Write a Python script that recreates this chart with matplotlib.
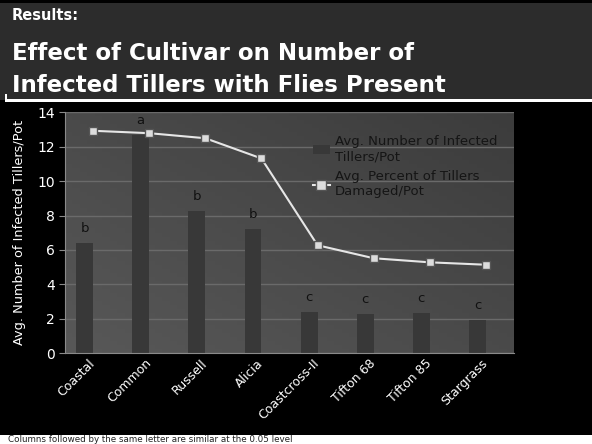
import numpy as np
import matplotlib.pyplot as plt
from matplotlib.patches import Rectangle

cultivars = ['Coastal', 'Common', 'Russell', 'Alicia', 'Coastcross-II',
             'Tifton 68', 'Tifton 85', 'Stargrass']
infected = [6.42, 12.69, 8.26, 7.2, 2.37, 2.25, 2.31, 1.94]
damaged_pct = [92.4, 91.4, 89.3, 80.9, 44.8, 39.4, 37.7, 36.7]
letters = ['b', 'a', 'b', 'b', 'c', 'c', 'c', 'c']

W, H = 592, 444
fig = plt.figure(figsize=(W / 100, H / 100), dpi=100, facecolor='black')

# title band
fig.patches.append(Rectangle((0, 1 - 100 / H), 1, 97 / H, transform=fig.transFigure,
                             facecolor='#2c2c2c', edgecolor='none', zorder=0))
fig.patches.append(Rectangle((5 / W, 1 - 102 / H), 1, 2.5 / H, transform=fig.transFigure,
                             facecolor='white', edgecolor='none', zorder=1))
fig.patches.append(Rectangle((5 / W, 1 - 102 / H), 1.5 / W, 8 / H, transform=fig.transFigure,
                             facecolor='white', edgecolor='none', zorder=1))
# bottom note strip
fig.patches.append(Rectangle((0, 0), 1, 9 / H, transform=fig.transFigure,
                             facecolor='white', edgecolor='none', zorder=1))

fig.text(12 / W, 1 - 15 / H, 'Results:', color='white', fontsize=10.5,
         fontweight='bold', va='center', ha='left')
fig.text(12 / W, 1 - 53 / H, 'Effect of Cultivar on Number of', color='white',
         fontsize=16.5, fontweight='bold', va='center', ha='left')
fig.text(12 / W, 1 - 85 / H, 'Infected Tillers with Flies Present', color='white',
         fontsize=16.5, fontweight='bold', va='center', ha='left')
fig.text(8 / W, 0, 'Columns followed by the same letter are similar at the 0.05 level',
         color='#222222', fontsize=6.3, va='bottom', ha='left', zorder=3)

ax = fig.add_axes([65 / W, (H - 353) / H, 449 / W, 240.5 / H])
x = np.arange(len(cultivars))

# plot area gradient: lighter bottom-left, darker top-right
gx, gy = np.meshgrid(np.linspace(0, 1, 60), np.linspace(0, 1, 60))
shade = 0.345 - 0.055 * gx - 0.055 * gy
ax.imshow(np.dstack([shade, shade, shade]), extent=[-0.5, 7.5, 0, 14], origin='lower',
          aspect='auto', zorder=0)

ax.set_xlim(-0.5, 7.5)
ax.set_ylim(0, 14)
ax.set_yticks(np.arange(0, 15, 2))
ax.grid(axis='y', color='#6a6a6a', linewidth=1, zorder=1)
ax.set_axisbelow(True)

bars = ax.bar(x - 0.15, infected, width=0.3, color='#383838', zorder=2,
              label='Avg. Number of Infected\nTillers/Pot')
for xi, v, l in zip(x, infected, letters):
    ax.text(xi - 0.15, v + 0.85, l, ha='center', va='center', fontsize=9.5,
            color='#111111', zorder=4)

ax2 = ax.twinx()
ax2.set_ylim(0, 100)
ln, = ax2.plot(x, damaged_pct, color='#e6e6e6', linewidth=1.5, marker='s',
               markersize=5.5, markerfacecolor='#dcdcdc', markeredgecolor='#555555',
               label='Avg. Percent of Tillers\nDamaged/Pot', zorder=3)
ax2.set_yticks([])
for s in ax2.spines.values():
    s.set_visible(False)

for s in ['top', 'right']:
    ax.spines[s].set_visible(False)
ax.spines['left'].set_color('#8a8a8a')
ax.spines['bottom'].set_color('#8a8a8a')
ax.tick_params(axis='y', colors='white', labelsize=10, length=4, color='#8a8a8a')
ax.tick_params(axis='x', colors='white', labelsize=9, length=0, pad=6)
ax.set_xticks(x)
ax.set_xticklabels(cultivars, rotation=45, ha='right', va='center',
                   rotation_mode='anchor')
ax.set_ylabel('Avg. Number of Infected Tillers/Pot', color='white', fontsize=9.3,
              labelpad=8)

leg = ax2.legend([bars, ln], [bars.get_label(), ln.get_label()], loc='upper left',
                 bbox_to_anchor=(0.525, 0.955), frameon=False, fontsize=9.5,
                 handlelength=1.3, handletextpad=0.4, labelspacing=0.55,
                 markerscale=1.4)
for t in leg.get_texts():
    t.set_color('#151515')

fig.savefig('out.png', dpi=100, facecolor='black')
